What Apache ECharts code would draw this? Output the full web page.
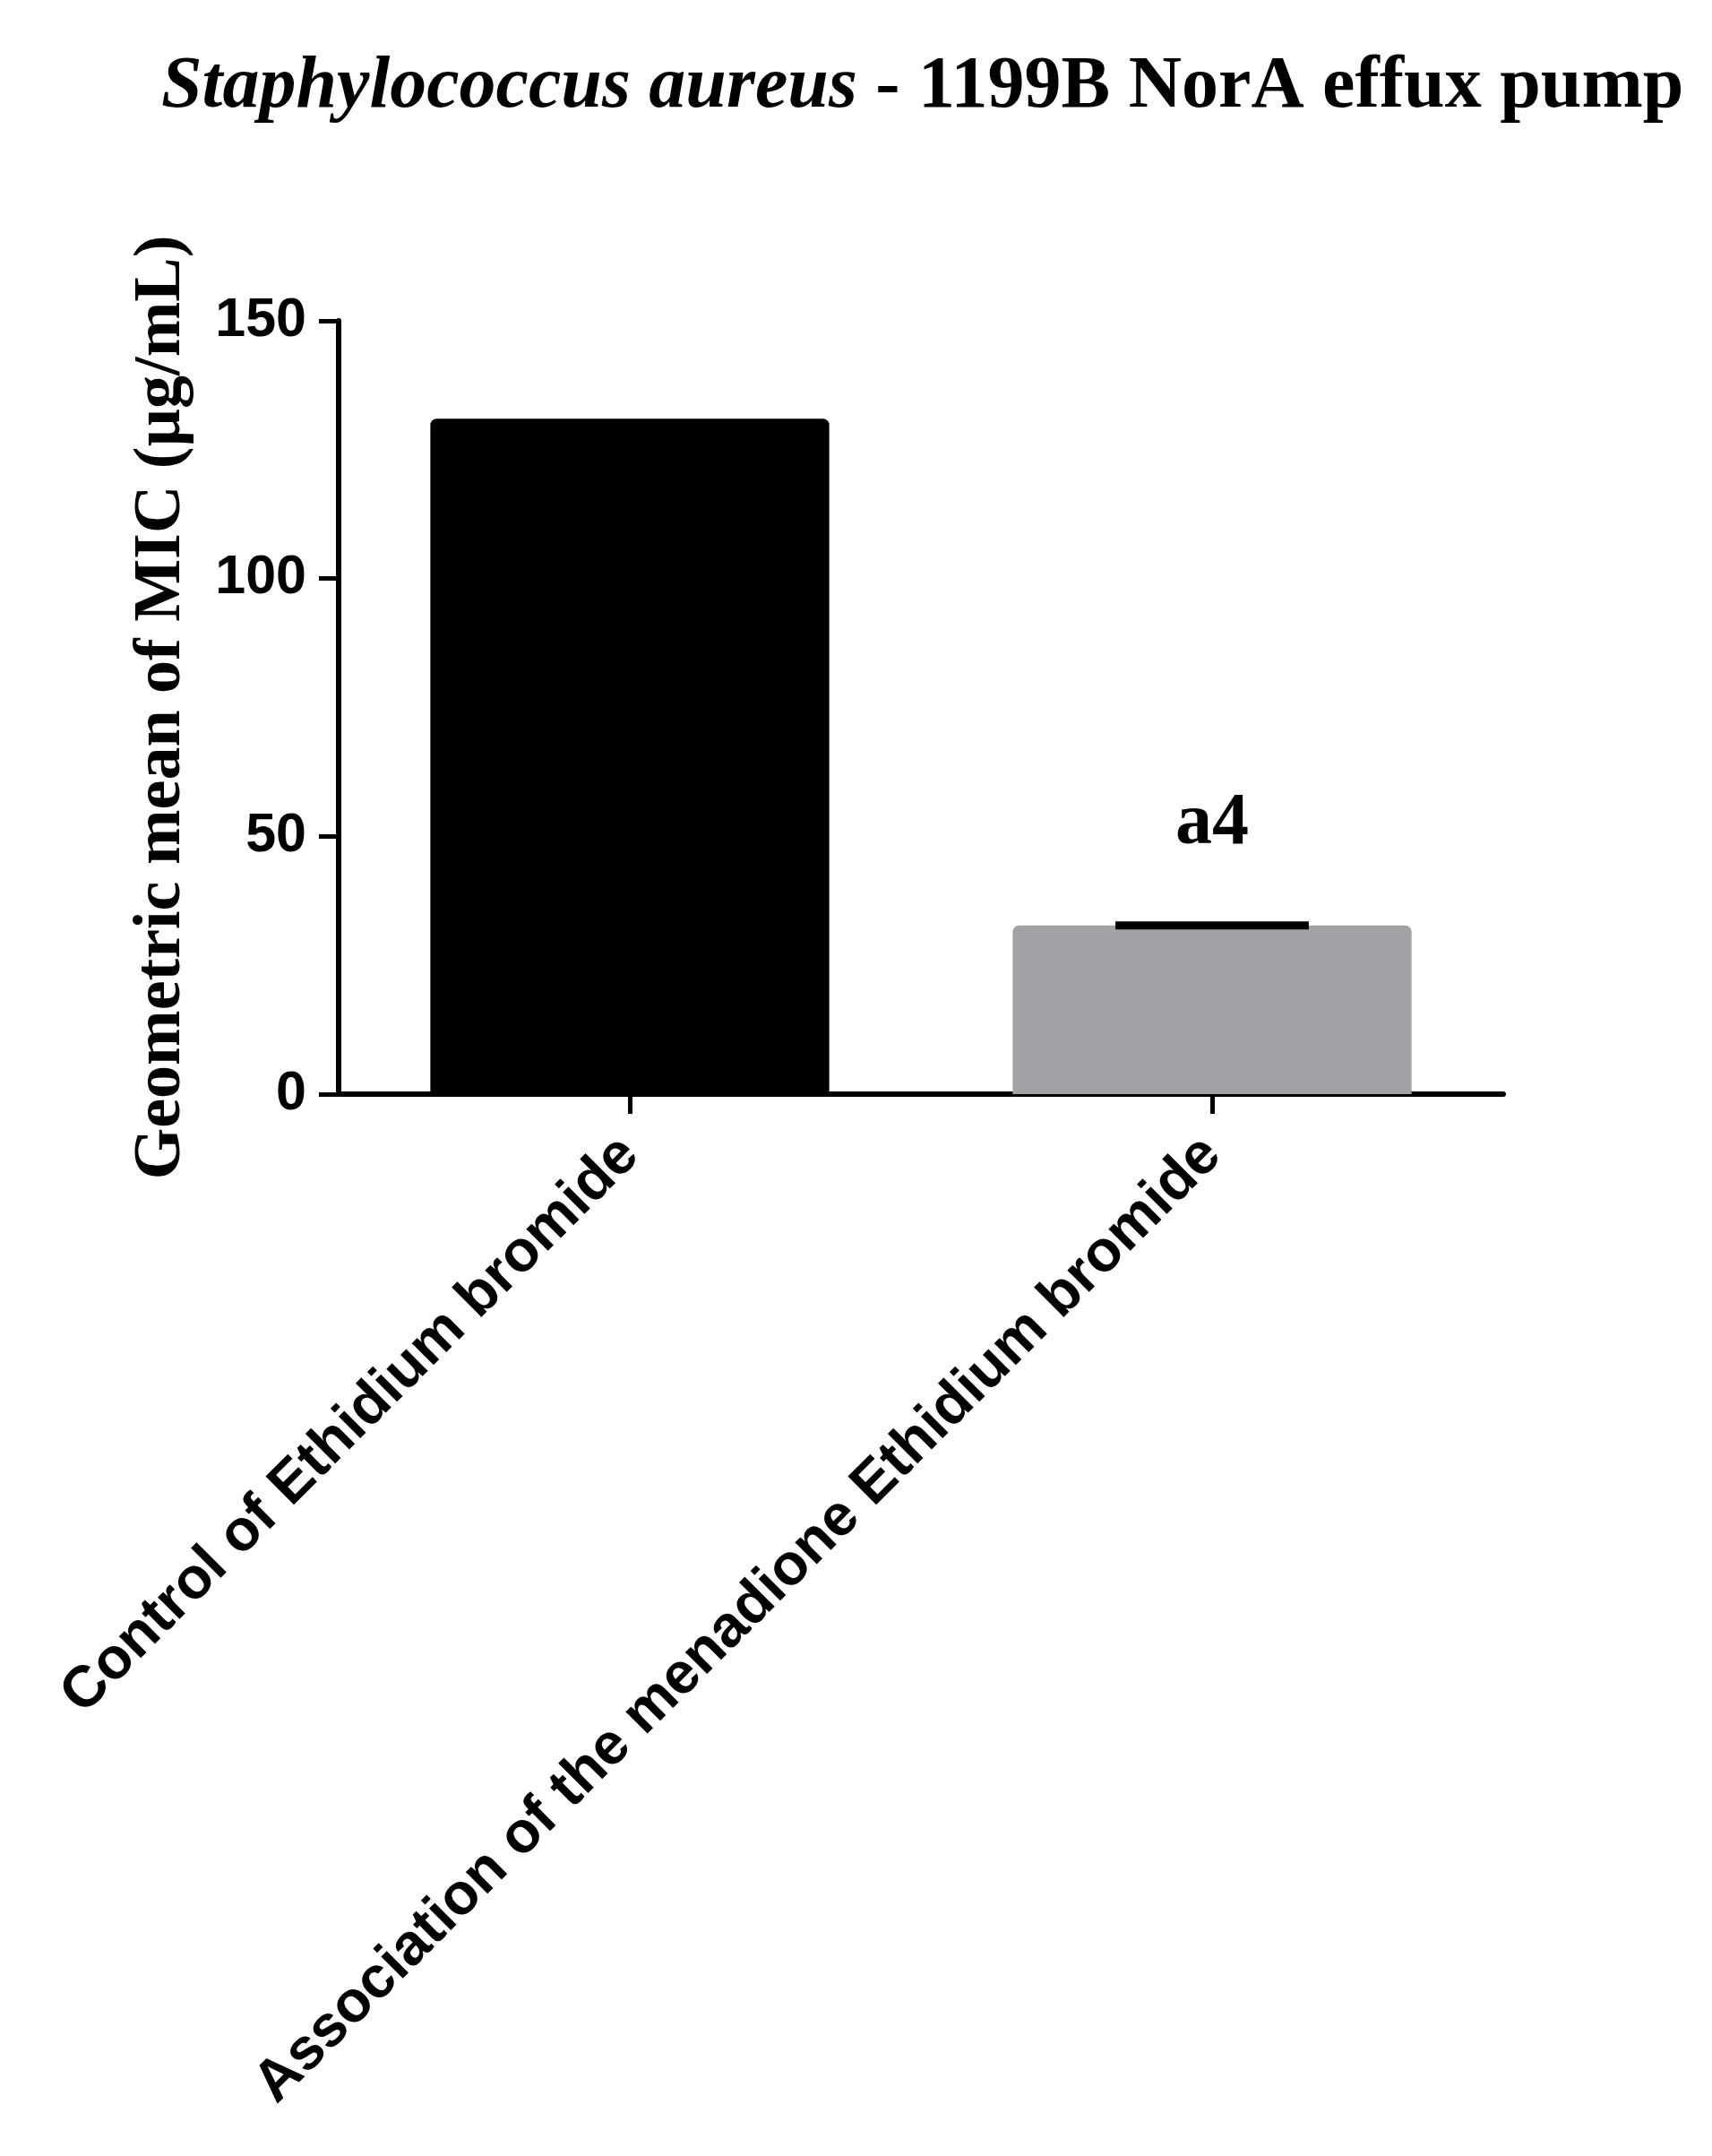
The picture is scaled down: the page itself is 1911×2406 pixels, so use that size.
<!DOCTYPE html>
<html><head><meta charset="utf-8">
<script src="https://cdn.jsdelivr.net/npm/echarts@6/dist/echarts.min.js"></script>
<style>html,body{margin:0;padding:0;background:#fff}#c{width:1911px;height:2406px}</style>
</head><body><div id="c"></div>
<script>
const categories = ['Control of Ethidium bromide', 'Association of the menadione Ethidium bromide'];
const values = [131, 32.7];
const errorValues = [null, 32.7];
const annotations = ['', 'a4'];
const yTicks = [0, 50, 100, 150];
const barColors = ['#000000', '#a2a1a6'];

const chart = echarts.init(document.getElementById('c'), null, {renderer: 'canvas'});
chart.setOption({
  backgroundColor: '#fff',
  animation: false,
  title: {
    text: '{i|Staphylococcus aureus}{b| - 1199B NorA effux pump}',
    left: 175, top: 52,
    textStyle: {
      rich: {
        i: {fontFamily: 'Liberation Serif', fontWeight: 'bold', fontStyle: 'italic', fontSize: 82, color: '#000'},
        b: {fontFamily: 'Liberation Serif', fontWeight: 'bold', fontSize: 82, color: '#000'}
      }
    }
  },
  grid: {left: 378, right: 233, top: 358, bottom: 1185, containLabel: false},
  xAxis: {
    type: 'category', data: categories,
    axisLine: {lineStyle: {color: '#000', width: 6}},
    axisTick: {show: true, alignWithLabel: true, length: 22, lineStyle: {color: '#000', width: 5}},
    axisLabel: {rotate: 45, interval: 0, margin: 58, color: '#000', fontFamily: 'Liberation Sans', fontWeight: 'bold', fontSize: 65}
  },
  yAxis: {
    type: 'value', min: 0, max: 150, interval: 50,
    name: 'Geometric mean of MIC (µg/mL)', nameLocation: 'middle', nameRotate: 90, nameGap: 160,
    nameTextStyle: {fontFamily: 'Liberation Serif', fontWeight: 'bold', fontSize: 74, color: '#000'},
    splitLine: {show: false},
    axisLine: {show: true, lineStyle: {color: '#000', width: 6}},
    axisTick: {show: true, length: 22, lineStyle: {color: '#000', width: 5}},
    axisLabel: {margin: 36, color: '#000', fontFamily: 'Liberation Sans', fontWeight: 'bold', fontSize: 61,
      formatter: v => yTicks.includes(v) ? String(v) : ''}
  },
  series: [
    {
      type: 'bar', barWidth: '68.5%',
      data: values.map((v, i) => ({value: v, itemStyle: {color: barColors[i], borderRadius: [7, 7, 0, 0]}})),
      z: 2
    },
    {
      type: 'custom', z: 5,
      data: errorValues.map((v, i) => [i, v]),
      renderItem: function (params, api) {
        const val = errorValues[params.dataIndex];
        if (val == null) return null;
        const p = api.coord([api.value(0), val]);
        const band = api.size([1, 0])[0];
        const half = band * 0.166;
        const idx = params.dataIndex;
        const children = [{
          type: 'line',
          shape: {x1: p[0] - half, y1: p[1], x2: p[0] + half, y2: p[1]},
          style: {stroke: '#000', lineWidth: 9}
        }];
        if (annotations[idx]) {
          children.push({
            type: 'text',
            style: {text: annotations[idx], x: p[0], y: p[1] - 72, align: 'center', verticalAlign: 'bottom',
              fontFamily: 'Liberation Serif', fontWeight: 'bold', fontSize: 82, fill: '#000'}
          });
        }
        return {type: 'group', children: children};
      }
    }
  ]
});
</script></body></html>
